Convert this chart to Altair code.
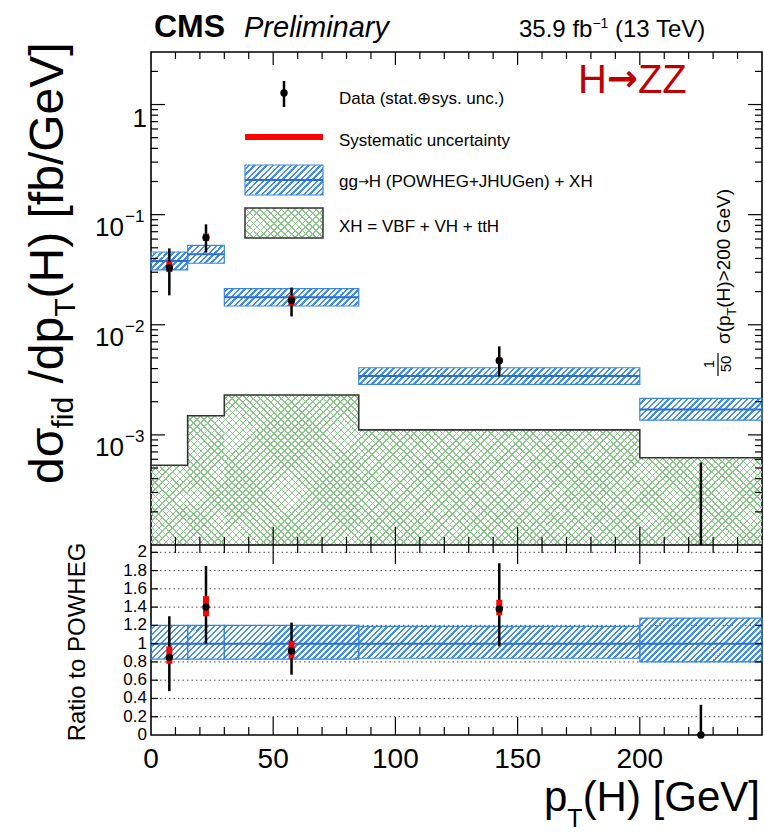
import math
import altair as alt
import pandas as pd

# ---------------- values ----------------
bin_lo = [0, 15, 30, 85, 200]
bin_hi = [15, 30, 85, 200, 250]
bin_mid = [7.5, 22.5, 57.5, 142.5, 225]

# gg->H (POWHEG+JHUGen) + XH  (last bin shown as 1/50 sigma)
pred_val = [0.038, 0.0437, 0.0178, 0.00342, 0.0017]
pred_lo = [0.0315, 0.0362, 0.0148, 0.00288, 0.00136]
pred_hi = [0.0458, 0.0527, 0.0213, 0.00407, 0.00215]
# XH = VBF + VH + ttH
xh_val = [5.3e-4, 1.49e-3, 2.3e-3, 1.11e-3, 6.2e-4]
# data
data_val = [0.0328, 0.0619, 0.0166, 0.00471, 0.0]
data_err_lo = [0.0185, 0.0452, 0.0119, 0.0034, 1e-4]
data_err_hi = [0.0494, 0.0817, 0.0218, 0.00636, 5.6e-4]
data_sys_lo = [0.0301, 0.0577, 0.0150, 0.00449, None]
data_sys_hi = [0.0375, 0.0674, 0.0185, 0.00505, None]
# ratio to POWHEG
ratio_band_lo = [0.83, 0.83, 0.83, 0.84, 0.80]
ratio_band_hi = [1.20, 1.20, 1.20, 1.19, 1.28]
ratio_val = [0.85, 1.40, 0.92, 1.38, 0.0]
ratio_err_lo = [0.48, 1.00, 0.66, 0.97, 0.0]
ratio_err_hi = [1.30, 1.85, 1.23, 1.88, 0.33]
ratio_sys_lo = [0.78, 1.30, 0.84, 1.31, None]
ratio_sys_hi = [0.97, 1.52, 1.03, 1.48, None]

# axis ticks / labels
x_label_vals = [0, 50, 100, 150, 200]
x_label_text = ["0", "50", "100", "150", "200"]
x_major = [50, 100, 150, 200]
x_minor = [v for v in range(10, 250, 10) if v % 50 != 0]
top_label_exp = [0, -1, -2, -3]
top_major = [1e-3, 1e-2, 1e-1, 1.0]
top_minor = [m * 10.0 ** e for e in range(-4, 1) for m in range(2, 10) if m * 10.0 ** e < 3]
ratio_label_vals = [0, 0.2, 0.4, 0.6, 0.8, 1.0, 1.2, 1.4, 1.6, 1.8, 2.0]
ratio_label_text = ["0", "0.2", "0.4", "0.6", "0.8", "1", "1.2", "1.4", "1.6", "1.8", "2"]

# ---------------- layout / style ----------------
FONT = "Liberation Sans"
OX, OY = 151, 52          # page position of plot origin
W, H = 611, 683           # whole plotting frame (both panels)
TOP_H = 493               # height of upper panel
XMAX = 250
YT_MIN, YT_MAX = 1e-4, 3.0
YR_MAX = 2.08

BLUE = "#4590e6"
BLUE_EDGE = "#3a86de"
BLUE_LINE = "#2a6fd0"
GREEN = "#8cc78c"
RED = "#ff0000"

XS = alt.Scale(domain=[0, XMAX], range=[0, W], nice=False, zero=False)


def YT():
    return alt.Scale(type="log", domain=[YT_MIN, YT_MAX], range=[TOP_H, 0], nice=False)


def YR():
    return alt.Scale(domain=[0, YR_MAX], range=[H, TOP_H], nice=False, zero=False)


def px_x(v):
    return v / XMAX * W


def px_ytop(v):
    return TOP_H * (math.log10(YT_MAX) - math.log10(v)) / (math.log10(YT_MAX) - math.log10(YT_MIN))


def px_yrat(v):
    return H - (H - TOP_H) * v / YR_MAX


def hatch_fill(x0, y0, w, h, period, width, color, direction):
    """Linear-gradient stripes emulating a hatch pattern (objectBoundingBox units)."""
    L = w + h
    k = w * L / (w * w + h * h)
    if direction == "/":
        g = dict(x1=0, y1=0, x2=k, y2=k * h / w)
        s0 = x0 + y0
    else:
        g = dict(x1=0, y1=1, x2=k, y2=1 - k * h / w)
        s0 = x0 - y0 - h
    clear = "rgba(255,255,255,0)"
    stops = []
    n = math.floor((s0 - width) / period)
    while True:
        a = n * period - s0
        if a >= L:
            break
        b = a + width
        if b > 0:
            a2, b2 = max(a, 0.0), min(b, L)
            stops += [(a2, clear), (a2, color), (b2, color), (b2, clear)]
        n += 1
    stops = [{"offset": round(o / L, 6), "color": c} for o, c in stops]
    return {"gradient": "linear", **g, "stops": stops}


AW = {' ': 278, '(': 333, ')': 333, '+': 584, '.': 278, '/': 278, '=': 584, '>': 584,
      '[': 278, ']': 278, '−': 584, 'σ': 600, '→': 838, '⊕': 838}
for c in "0123456789":
    AW[c] = 556
AW.update({'A': 667, 'B': 667, 'C': 722, 'D': 722, 'E': 667, 'F': 611, 'G': 778, 'H': 722,
           'I': 278, 'J': 500, 'K': 667, 'L': 556, 'M': 833, 'N': 722, 'O': 778, 'P': 667,
           'Q': 778, 'R': 722, 'S': 667, 'T': 611, 'U': 722, 'V': 667, 'W': 944, 'X': 667,
           'Y': 667, 'Z': 611, 'a': 556, 'b': 556, 'c': 500, 'd': 556, 'e': 556, 'f': 278,
           'g': 556, 'h': 556, 'i': 222, 'j': 222, 'k': 500, 'l': 222, 'm': 833, 'n': 556,
           'o': 556, 'p': 556, 'q': 556, 'r': 333, 's': 500, 't': 278, 'u': 556, 'v': 500,
           'w': 722, 'x': 500, 'y': 500, 'z': 500})


def tw(s, size):
    return sum(AW.get(c, 556) for c in s) * size / 1000.0


def one():
    return alt.Data(values=[{"k": 0}])


def text_at(s, x, y, size, angle=0, align="left", baseline="alphabetic",
            weight="normal", style="normal", color="black", font=FONT):
    return alt.Chart(one()).mark_text(
        text=s, fontSize=size, angle=angle, align=align, baseline=baseline,
        fontWeight=weight, fontStyle=style, color=color, font=font
    ).encode(x=alt.value(x - OX), y=alt.value(y - OY))


def rich(pieces, x, y, rotated=False, align="left", color="black"):
    """pieces: (text, size, shift[, font, weight]); leading blanks only advance."""
    total = sum(tw(p[0], p[1]) for p in pieces)
    start = {"left": 0, "center": -total / 2, "right": -total}[align]
    out, pos = [], start
    for p in pieces:
        t, s, sh = p[0], p[1], p[2]
        font = p[3] if len(p) > 3 else FONT
        weight = p[4] if len(p) > 4 else "normal"
        stripped = t.lstrip(" ")
        lead = tw(t[: len(t) - len(stripped)], s)
        if rotated:
            out.append(text_at(stripped, x + sh, y - pos - lead, s, angle=270,
                               color=color, font=font, weight=weight))
        else:
            out.append(text_at(stripped, x + pos + lead, y + sh, s,
                               color=color, font=font, weight=weight))
        pos += tw(t, s)
    return out


layers = []

# ---- ratio grid lines ----
grid_df = pd.DataFrame({"v": ratio_label_vals[1:]})
layers.append(alt.Chart(grid_df).mark_rule(color="#444", strokeWidth=1, strokeDash=[1.5, 3]).encode(
    y=alt.Y("v:Q", scale=YR(), axis=None), x=alt.value(0), x2=alt.value(W)))

# ---- XH green cross-hatched histogram ----
for i in range(5):
    x0 = px_x(bin_lo[i]); w = px_x(bin_hi[i]) - x0
    y0 = px_ytop(xh_val[i]); h = TOP_H - y0
    d = pd.DataFrame({"lo": [bin_lo[i]], "hi": [bin_hi[i]], "v": [xh_val[i]], "b": [YT_MIN]})
    for direc in ["/", "\\"]:
        layers.append(alt.Chart(d).mark_rect(
            fill=hatch_fill(x0, y0, w, h, 7.0, 1.8, GREEN, direc), strokeWidth=0).encode(
            x=alt.X("lo:Q", scale=XS, axis=None), x2="hi:Q",
            y=alt.Y("v:Q", scale=YT(), axis=None), y2="b:Q"))

step_df = pd.DataFrame({"x": bin_lo + [bin_hi[-1]], "v": xh_val + [xh_val[-1]]})
layers.append(alt.Chart(step_df).mark_line(interpolate="step-after", color="#333", strokeWidth=1.6).encode(
    x=alt.X("x:Q", scale=XS, axis=None), y=alt.Y("v:Q", scale=YT(), axis=None)))

# ---- prediction bands (upper panel) ----
for i in range(5):
    x0 = px_x(bin_lo[i]); w = px_x(bin_hi[i]) - x0
    y0 = px_ytop(pred_hi[i]); h = px_ytop(pred_lo[i]) - y0
    d = pd.DataFrame({"lo": [bin_lo[i]], "hi": [bin_hi[i]], "a": [pred_lo[i]], "b": [pred_hi[i]]})
    layers.append(alt.Chart(d).mark_rect(
        fill=hatch_fill(x0, y0, w, h, 6.0, 2.4, BLUE, "/"), stroke=BLUE_EDGE, strokeWidth=1.2).encode(
        x=alt.X("lo:Q", scale=XS, axis=None), x2="hi:Q",
        y=alt.Y("a:Q", scale=YT(), axis=None), y2="b:Q"))
pred_df = pd.DataFrame({"lo": bin_lo, "hi": bin_hi, "v": pred_val})
layers.append(alt.Chart(pred_df).mark_rule(color=BLUE_LINE, strokeWidth=2).encode(
    x=alt.X("lo:Q", scale=XS, axis=None), x2="hi:Q", y=alt.Y("v:Q", scale=YT(), axis=None)))

# ---- prediction bands (ratio panel) ----
for i in range(5):
    x0 = px_x(bin_lo[i]); w = px_x(bin_hi[i]) - x0
    y0 = px_yrat(ratio_band_hi[i]); h = px_yrat(ratio_band_lo[i]) - y0
    d = pd.DataFrame({"lo": [bin_lo[i]], "hi": [bin_hi[i]], "a": [ratio_band_lo[i]], "b": [ratio_band_hi[i]]})
    layers.append(alt.Chart(d).mark_rect(
        fill=hatch_fill(x0, y0, w, h, 6.0, 2.4, BLUE, "/"), stroke=BLUE_EDGE, strokeWidth=1.2).encode(
        x=alt.X("lo:Q", scale=XS, axis=None), x2="hi:Q",
        y=alt.Y("a:Q", scale=YR(), axis=None), y2="b:Q"))
one_df = pd.DataFrame({"lo": bin_lo, "hi": bin_hi, "v": [1.0] * 5})
layers.append(alt.Chart(one_df).mark_rule(color=BLUE_LINE, strokeWidth=2).encode(
    x=alt.X("lo:Q", scale=XS, axis=None), x2="hi:Q", y=alt.Y("v:Q", scale=YR(), axis=None)))

# ---- panel separator ----
layers.append(alt.Chart(pd.DataFrame({"v": [YT_MIN]})).mark_rule(color="black", strokeWidth=1.5).encode(
    y=alt.Y("v:Q", scale=YT(), axis=None), x=alt.value(0), x2=alt.value(W)))

# ---- ticks (inward, ROOT style) ----
def xticks(vals, ya, yb):
    return alt.Chart(pd.DataFrame({"v": vals})).mark_rule(color="black", strokeWidth=1.2).encode(
        x=alt.X("v:Q", scale=XS, axis=None), y=alt.value(ya), y2=alt.value(yb))


layers += [xticks(x_major, 0, 13), xticks(x_minor, 0, 7),
           xticks(x_major, TOP_H, TOP_H - 18), xticks(x_minor, TOP_H, TOP_H - 8),
           xticks(x_major, TOP_H, TOP_H + 19), xticks(x_minor, TOP_H, TOP_H + 8),
           xticks(x_major, H, H - 18), xticks(x_minor, H, H - 8)]


def yticks(vals, scale, xa, xb):
    return alt.Chart(pd.DataFrame({"v": vals})).mark_rule(color="black", strokeWidth=1.2).encode(
        y=alt.Y("v:Q", scale=scale, axis=None), x=alt.value(xa), x2=alt.value(xb))


layers += [yticks(top_major, YT(), 0, 14), yticks(top_minor, YT(), 0, 7),
           yticks(top_major, YT(), W, W - 14), yticks(top_minor, YT(), W, W - 7),
           yticks(ratio_label_vals[1:], YR(), 0, 7), yticks(ratio_label_vals[1:], YR(), W, W - 7)]

# ---- data, upper panel ----
dtop = pd.DataFrame({"x": bin_mid, "v": data_val, "lo": data_err_lo, "hi": data_err_hi,
                     "slo": data_sys_lo, "shi": data_sys_hi})
layers.append(alt.Chart(dtop).mark_rule(color="black", strokeWidth=2.5).encode(
    x=alt.X("x:Q", scale=XS, axis=None), y=alt.Y("lo:Q", scale=YT(), axis=None), y2="hi:Q"))
layers.append(alt.Chart(dtop.dropna()).mark_rule(color=RED, strokeWidth=6).encode(
    x=alt.X("x:Q", scale=XS, axis=None), y=alt.Y("slo:Q", scale=YT(), axis=None), y2="shi:Q"))
layers.append(alt.Chart(dtop[dtop["v"] > 0]).mark_circle(color="black", opacity=1, size=55).encode(
    x=alt.X("x:Q", scale=XS, axis=None), y=alt.Y("v:Q", scale=YT(), axis=None)))

# ---- data, ratio panel ----
drat = pd.DataFrame({"x": bin_mid, "v": ratio_val, "lo": ratio_err_lo, "hi": ratio_err_hi,
                     "slo": ratio_sys_lo, "shi": ratio_sys_hi})
layers.append(alt.Chart(drat).mark_rule(color="black", strokeWidth=2.5).encode(
    x=alt.X("x:Q", scale=XS, axis=None), y=alt.Y("lo:Q", scale=YR(), axis=None), y2="hi:Q"))
layers.append(alt.Chart(drat.dropna()).mark_rule(color=RED, strokeWidth=6).encode(
    x=alt.X("x:Q", scale=XS, axis=None), y=alt.Y("slo:Q", scale=YR(), axis=None), y2="shi:Q"))
layers.append(alt.Chart(drat).mark_circle(color="black", opacity=1, size=55).encode(
    x=alt.X("x:Q", scale=XS, axis=None), y=alt.Y("v:Q", scale=YR(), axis=None)))

# ---- tick labels ----
xl = pd.DataFrame({"v": x_label_vals, "t": x_label_text})
layers.append(alt.Chart(xl).mark_text(fontSize=28, font=FONT, align="center", baseline="alphabetic").encode(
    x=alt.X("v:Q", scale=XS, axis=None), y=alt.value(768 - OY), text="t:N"))

tl = pd.DataFrame({"v": [10.0 ** e for e in top_label_exp],
                   "sup": ["" if e == 0 else "−" + str(-e) for e in top_label_exp]})
layers.append(alt.Chart(tl[tl["v"] == 1]).mark_text(fontSize=26, font=FONT, align="right", dy=14, text="1").encode(
    y=alt.Y("v:Q", scale=YT(), axis=None), x=alt.value(-4)))
layers.append(alt.Chart(tl[tl["v"] < 1]).mark_text(fontSize=26, font=FONT, align="right", dy=13, text="10").encode(
    y=alt.Y("v:Q", scale=YT(), axis=None), x=alt.value(-27)))
layers.append(alt.Chart(tl[tl["v"] < 1]).mark_text(fontSize=17, font=FONT, align="left", dy=2).encode(
    y=alt.Y("v:Q", scale=YT(), axis=None), x=alt.value(-26), text="sup:N"))

rl = pd.DataFrame({"v": ratio_label_vals, "t": ratio_label_text})
layers.append(alt.Chart(rl).mark_text(fontSize=17, font=FONT, align="right", baseline="middle").encode(
    y=alt.Y("v:Q", scale=YR(), axis=None), x=alt.value(-4), text="t:N"))

# ---- legend ----
LX0, LX1 = 245 - OX, 323 - OX
layers.append(alt.Chart(one()).mark_rule(color="black", strokeWidth=2.5).encode(
    x=alt.value(284 - OX), y=alt.value(81 - OY), y2=alt.value(107 - OY)))
layers.append(alt.Chart(one()).mark_circle(color="black", opacity=1, size=55).encode(
    x=alt.value(284 - OX), y=alt.value(93 - OY)))
layers.append(alt.Chart(one()).mark_rule(color=RED, strokeWidth=6).encode(
    x=alt.value(LX0), x2=alt.value(LX1), y=alt.value(137 - OY)))
layers.append(alt.Chart(one()).mark_rect(
    fill=hatch_fill(LX0, 165 - OY, LX1 - LX0, 30, 6.0, 2.4, BLUE, "/"), stroke=BLUE_EDGE, strokeWidth=1.2).encode(
    x=alt.value(LX0), x2=alt.value(LX1), y=alt.value(165 - OY), y2=alt.value(195 - OY)))
layers.append(alt.Chart(one()).mark_rule(color=BLUE_LINE, strokeWidth=2).encode(
    x=alt.value(LX0), x2=alt.value(LX1), y=alt.value(180 - OY)))
for direc in ["/", "\\"]:
    layers.append(alt.Chart(one()).mark_rect(
        fill=hatch_fill(LX0, 208 - OY, LX1 - LX0, 30, 7.0, 1.8, GREEN, direc), strokeWidth=0).encode(
        x=alt.value(LX0), x2=alt.value(LX1), y=alt.value(208 - OY), y2=alt.value(238 - OY)))
layers.append(alt.Chart(one()).mark_rect(fill="rgba(255,255,255,0)", stroke="#333", strokeWidth=1.5).encode(
    x=alt.value(LX0), x2=alt.value(LX1), y=alt.value(208 - OY), y2=alt.value(238 - OY)))

layers += [text_at("Data (stat.⊕sys. unc.)", 339, 104, 17),
           text_at("Systematic uncertainty", 339, 146, 17),
           text_at("XH = VBF + VH + ttH", 339, 232, 17)]
layers += rich([("gg", 17, 0), ("→", 13, -1, "DejaVu Sans"), ("H (POWHEG+JHUGen) + XH", 17, 0)], 339, 187)

# ---- titles and annotations ----
layers.append(text_at("CMS", 154, 37, 32, weight="bold"))
layers.append(text_at("Preliminary", 244, 37, 29, style="italic"))
layers += rich([("35.9 fb", 24, 0), ("−1", 14, -9), (" (13 TeV)", 24, 0)], 519, 37)
layers += rich([("H", 40, 0), ("→", 37, -2, "DejaVu Sans", "bold"), ("ZZ", 40, 0)], 578, 93,
               color="#c00000")

layers += rich([("dσ", 48, 0), ("fid", 30, 10), (" /dp", 48, 0), ("T", 30, 12),
                ("(H) [fb/GeV]", 48, 0)], 63, 484, rotated=True)
layers.append(text_at("Ratio to POWHEG", 85, 642, 24, angle=270, align="center"))
layers += rich([("p", 42, 0), ("T", 25, 16), ("(H) [GeV]", 42, 0)], 760, 811, align="right")

# 1/50 sigma(pT(H)>200 GeV), vertical
layers.append(text_at("1", 714, 364, 15, angle=270, align="center"))
layers.append(text_at("50", 731, 364, 15, angle=270, align="center"))
layers.append(alt.Chart(one()).mark_rule(color="black", strokeWidth=1.2).encode(
    x=alt.value(718 - OX), y=alt.value(353 - OY), y2=alt.value(376 - OY)))
layers += rich([("σ(p", 19, 0), ("T", 13, 6), ("(H)>200 GeV)", 19, 0)], 730, 344, rotated=True)

chart = alt.layer(*layers).resolve_scale(y="independent").properties(
    width=W, height=H,
    autosize=alt.AutoSizeParams(type="none"),
    padding={"left": OX, "top": OY, "right": 764 - OX - W, "bottom": 834 - OY - H},
).configure_view(stroke="black", strokeWidth=1.6)

chart.save("out.html", embed_options={"renderer": "svg", "actions": False})
